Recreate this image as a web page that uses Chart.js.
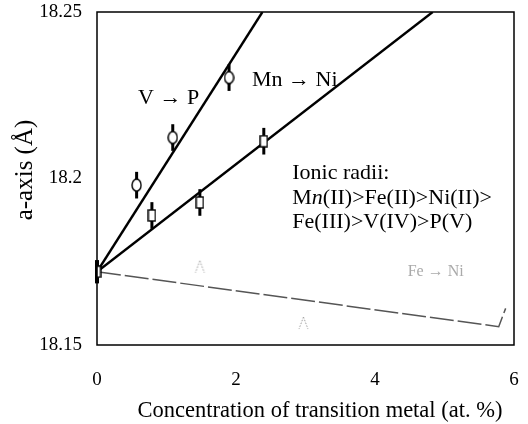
<!DOCTYPE html>
<html>
<head>
<meta charset="utf-8">
<script src="https://cdn.jsdelivr.net/npm/chart.js@4/dist/chart.umd.min.js"></script>
<style>
  html, body { margin: 0; padding: 0; background: #fff; }
  #wrap { width: 528px; height: 424px; }
</style>
</head>
<body>
<div id="wrap"><canvas id="c" width="528" height="424"></canvas></div>
<script>
// ---- data ----
const xTicks = [0, 2, 4, 6];
const yTicks = [18.15, 18.2, 18.25];
const yTickLabels = ['18.15', '18.2', '18.25'];
const xTitle = 'Concentration of transition metal (at. %)';
const yTitle = 'a-axis (\u00C5)';

// V -> P (circles)
const vpX = [0.57, 1.09, 1.90];
const vpY = [18.198, 18.2123, 18.2303];
const vpErr = [0.004, 0.004, 0.004];
const vpFitX = [0, 2.38];
const vpFitY = [18.172, 18.25];

// Mn -> Ni (squares)
const mnX = [0.79, 1.48, 2.40];
const mnY = [18.1889, 18.1928, 18.2112];
const mnErr = [0.004, 0.004, 0.004];
const mnFitX = [0, 4.83];
const mnFitY = [18.172, 18.25];

// undoped point
const x0X = [0];
const x0Y = [18.172];
const x0Err = [0.0035];

// Fe -> Ni (triangles, faint)
const feX = [1.48, 2.97];
const feY = [18.1735, 18.1566];
const feFitX = [0, 5.78, 5.88];
const feFitY = [18.172, 18.1555, 18.161];

const pts = (xs, ys) => xs.map((x, i) => ({ x: x, y: ys[i] }));

const FONT = "'Liberation Serif', 'DejaVu Serif', serif";

// marker images (style only)
function markerCanvas(w, h, draw) {
  const c = document.createElement('canvas');
  c.width = w; c.height = h;
  const g = c.getContext('2d');
  draw(g, w, h);
  return c;
}
const ellipseMarker = markerCanvas(11, 14, (g, w, h) => {
  g.fillStyle = '#fff'; g.strokeStyle = '#000'; g.lineWidth = 1.4;
  g.beginPath(); g.ellipse(w / 2, h / 2, w / 2 - 1, h / 2 - 1, 0, 0, Math.PI * 2);
  g.fill(); g.stroke();
});
const rectMarker = markerCanvas(9, 13, (g, w, h) => {
  g.fillStyle = '#fff'; g.strokeStyle = '#000'; g.lineWidth = 1.4;
  g.fillRect(1, 1, w - 2, h - 2); g.strokeRect(1, 1, w - 2, h - 2);
});
const triMarker = markerCanvas(13, 14, (g, w, h) => {
  g.strokeStyle = '#999'; g.lineWidth = 1; g.setLineDash([1.5, 1.5]);
  g.beginPath(); g.moveTo(w / 2, 1); g.lineTo(w - 2, h - 1); g.moveTo(w / 2, 1); g.lineTo(2, h - 1);
  g.stroke();
});

const errorBarPlugin = {
  id: 'errbars',
  beforeDatasetDraw(chart, args) {
    const ds = chart.data.datasets[args.index];
    if (!ds.errors) return;
    const ctx = chart.ctx, xs = chart.scales.x, ys = chart.scales.y;
    ctx.save();
    ctx.strokeStyle = '#000';
    ctx.lineWidth = ds.errWidth || 3;
    ds.data.forEach((p, i) => {
      const px = xs.getPixelForValue(p.x);
      ctx.beginPath();
      ctx.moveTo(px, ys.getPixelForValue(p.y - ds.errors[i]));
      ctx.lineTo(px, ys.getPixelForValue(p.y + ds.errors[i]));
      ctx.stroke();
    });
    ctx.restore();
  }
};

const framePlugin = {
  id: 'frame',
  afterDraw(chart) {
    const { ctx, chartArea: a } = chart;
    const xs = chart.scales.x, ys = chart.scales.y;
    ctx.save();
    ctx.strokeStyle = '#000';
    ctx.lineWidth = 1.5;
    ctx.strokeRect(a.left, a.top, a.right - a.left, a.bottom - a.top);

    // axis titles
    ctx.fillStyle = '#000';
    ctx.textBaseline = 'middle';
    ctx.textAlign = 'center';
    ctx.font = '22.5px ' + FONT;
    ctx.fillText(xTitle, 320, 411);
    ctx.save();
    ctx.translate(25, 170);
    ctx.rotate(-Math.PI / 2);
    ctx.font = '25px ' + FONT;
    ctx.fillText(yTitle, 0, 0);
    ctx.restore();

    // annotations
    ctx.font = '22px ' + FONT;
    ctx.textAlign = 'left';
    const T = (s, x, y) => ctx.fillText(s, xs.getPixelForValue(x), ys.getPixelForValue(y));
    T('V \u2192 P', 0.59, 18.2242);
    T('Mn \u2192 Ni', 2.23, 18.2296);
    T('Ionic radii:', 2.81, 18.2017);
    // "Mn" with italic n, as in the reference
    {
      let px = xs.getPixelForValue(2.81), py = ys.getPixelForValue(18.1941);
      ctx.font = '22px ' + FONT; ctx.fillText('M', px, py); px += ctx.measureText('M').width;
      ctx.font = 'italic 22px ' + FONT; ctx.fillText('n', px, py); px += ctx.measureText('n').width;
      ctx.font = '22px ' + FONT; ctx.fillText('(II)>Fe(II)>Ni(II)>', px, py);
    }
    T('Fe(III)>V(IV)>P(V)', 2.81, 18.1869);
    ctx.fillStyle = '#aaa';
    ctx.font = '16px ' + FONT;
    T('Fe \u2192 Ni', 4.47, 18.172);
    ctx.restore();
  }
};

new Chart(document.getElementById('c'), {
  type: 'scatter',
  data: {
    datasets: [
      { label: 'origin', data: pts(x0X, x0Y), errors: x0Err, errWidth: 4,
        pointStyle: rectMarker, order: 1 },
      { label: 'V->P', data: pts(vpX, vpY), errors: vpErr,
        pointStyle: ellipseMarker, order: 1 },
      { label: 'Mn->Ni', data: pts(mnX, mnY), errors: mnErr,
        pointStyle: rectMarker, order: 1 },
      { label: 'Fe->Ni', data: pts(feX, feY),
        pointStyle: triMarker, order: 1 },
      { label: 'V->P fit', data: pts(vpFitX, vpFitY), showLine: true, pointRadius: 0,
        borderColor: '#000', borderWidth: 2.4, order: 2 },
      { label: 'Mn->Ni fit', data: pts(mnFitX, mnFitY), showLine: true, pointRadius: 0,
        borderColor: '#000', borderWidth: 2.4, order: 2 },
      { label: 'Fe->Ni fit', data: pts(feFitX, feFitY), showLine: true, pointRadius: 0,
        borderColor: '#555', borderWidth: 1.5, borderDash: [24, 4], order: 2 }
    ]
  },
  options: {
    responsive: false,
    animation: false,
    events: [],
    layout: { padding: { top: 12, right: 14, left: 0, bottom: 0 } },
    plugins: { legend: { display: false }, tooltip: { enabled: false } },
    scales: {
      x: {
        type: 'linear', min: 0, max: 6,
        afterBuildTicks: s => { s.ticks = xTicks.map(v => ({ value: v })); },
        afterFit: s => { s.height = 79; s.paddingLeft = 0; s.paddingRight = 0; },
        grid: { display: false, drawTicks: false },
        border: { display: false },
        ticks: { padding: 24, color: '#000', font: { family: FONT, size: 19 }, maxRotation: 0 },
        title: { display: false }
      },
      y: {
        type: 'linear', min: 18.15, max: 18.25,
        afterBuildTicks: s => { s.ticks = yTicks.map(v => ({ value: v })); },
        afterFit: s => { s.width = 97; s.paddingTop = 0; s.paddingBottom = 0; },
        grid: { display: false, drawTicks: false },
        border: { display: false },
        ticks: { padding: 15, color: '#000', font: { family: FONT, size: 19 },
                 callback: (v) => { const i = yTicks.indexOf(v); return i >= 0 ? yTickLabels[i] : ''; } },
        title: { display: false }
      }
    }
  },
  plugins: [errorBarPlugin, framePlugin]
});
</script>
</body>
</html>
